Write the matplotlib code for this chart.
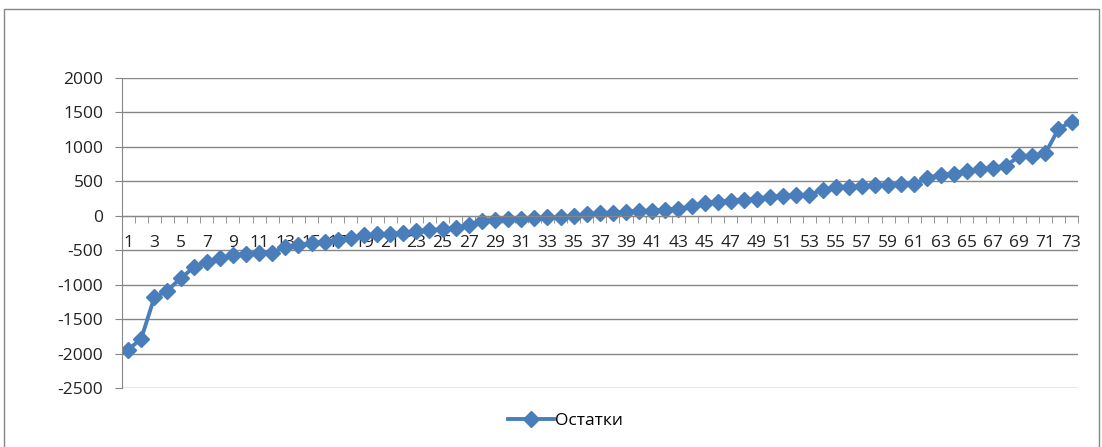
import matplotlib.pyplot as plt
import numpy as np
from matplotlib.patches import Rectangle

# --------------------------------------

plt.rcParams['font.family'] = ['Open Sans', 'DejaVu Sans']

nums = list(range(1, 74))
ostatki = [-1945, -1785, -1185, -1085, -910, -750, -675, -615, -575, -550,
           -545, -535, -450, -420, -400, -375, -355, -325, -285, -270,
           -265, -250, -225, -210, -195, -180, -130, -80, -65, -50,
           -40, -35, -25, -20, -5, 25, 40, 45, 60, 70,
           75, 90, 105, 135, 190, 205, 220, 235, 250, 275,
           290, 300, 305, 375, 420, 420, 425, 440, 445, 455,
           460, 550, 595, 610, 650, 675, 700, 725, 865, 865,
           905, 1260, 1365]
yticks = [2000, 1500, 1000, 500, 0, -500, -1000, -1500, -2000, -2500]
xlabels = [str(n) for n in nums[::2]]

blue = "#4a7ebb"
gray = "#868686"

# --------------------------------------

fig = plt.figure(figsize=(11.02, 4.47), dpi=100)
ax = fig.add_axes([0.1103, 0.132, 0.868, 0.6935])

# outer frame of the chart area
fig.patches.append(Rectangle((4 / 1102, -0.2), 1095 / 1102, 1.2 - 9 / 447,
                             transform=fig.transFigure, fill=False,
                             edgecolor=gray, linewidth=1))

ax.plot(nums, ostatki, color=blue, linestyle="-", linewidth=2.8,
        marker="D", markersize=8, label="Остатки")

ax.set_xlim(0.5, 73.5)
ax.set_ylim(-2500, 2000)
ax.set_yticks(yticks)
ax.set_yticklabels([str(v) for v in yticks], fontsize=12.5)
ax.grid(True, axis="y", color=gray, linewidth=1)
ax.set_axisbelow(True)

ax.spines["top"].set_visible(False)
ax.spines["right"].set_visible(False)
ax.spines["left"].set_color(gray)
ax.spines["bottom"].set_color(gray)
ax.spines["bottom"].set_position(("data", 0))

ax.set_xticks(nums[::2])
ax.set_xticklabels(xlabels, fontsize=12.5)
ax.set_xticks(np.arange(0.5, 74, 1), minor=True)
ax.tick_params(axis="x", which="major", length=0, pad=14, colors="#222222")
ax.tick_params(axis="x", which="minor", length=5, color=gray, direction="out")
ax.tick_params(axis="y", length=5, color=gray, pad=8, labelcolor="#222222")

ax.legend(loc="center", bbox_to_anchor=(0.464, -0.107), frameon=False,
          fontsize=12.5, handlelength=2.7, handletextpad=0.05)

plt.savefig("out.png", dpi=100)
